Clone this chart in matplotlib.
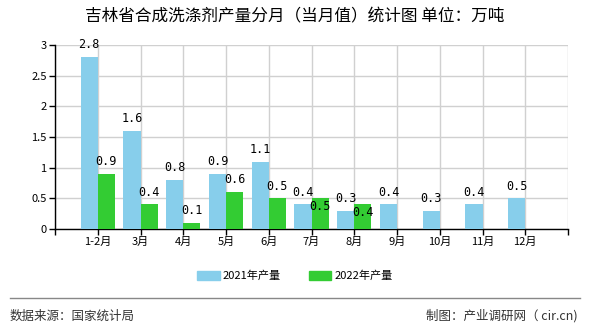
import matplotlib
matplotlib.use("Agg")
import matplotlib.pyplot as plt
from matplotlib.patches import Patch
from matplotlib.lines import Line2D

plt.rcParams['font.family'] = ['Noto Sans CJK SC', 'DejaVu Sans']

categories = ['1-2月', '3月', '4月', '5月', '6月', '7月', '8月', '9月', '10月', '11月', '12月']
values_2021 = [2.8, 1.6, 0.8, 0.9, 1.1, 0.4, 0.3, 0.4, 0.3, 0.4, 0.5]
values_2022 = [0.9, 0.4, 0.1, 0.6, 0.5, 0.5, 0.4]
series_names = ['2021年产量', '2022年产量']
yticks = [0, 0.5, 1, 1.5, 2, 2.5, 3]
ytick_labels = ['0', '0.5', '1', '1.5', '2', '2.5', '3']

c21 = '#87CEEB'
c22 = '#33CC33'

fig = plt.figure(figsize=(5.9, 3.3), dpi=100)
ax = fig.add_axes([55/590, 1-229/330, 513/590, 184/330])

w = 0.4
x21 = list(range(len(values_2021)))
x22 = list(range(len(values_2022)))
ax.bar([x - w/2 for x in x21], values_2021, width=w, color=c21, zorder=3)
ax.bar([x + w/2 for x in x22], values_2022, width=w, color=c22, zorder=3)

# label placement: above the bar, except where the reference pushed it down
lab_up = 0.2
for x, v in zip(x21, values_2021):
    ax.text(x - w/2, v + lab_up, f'{v:g}', ha='center', va='center', fontsize=8.5,
            family='DejaVu Sans Mono', zorder=4)
for i, (x, v) in enumerate(zip(x22, values_2022)):
    dy = lab_up if i < 5 else -0.13
    ax.text(x + w/2, v + dy, f'{v:g}', ha='center', va='center', fontsize=8.5,
            family='DejaVu Sans Mono', zorder=4)

ax.set_xlim(-1, len(categories))
ax.set_ylim(0, 3)
ax.set_yticks(yticks)
ax.set_yticklabels(ytick_labels, fontsize=8)
ax.set_xticks(range(-1, len(categories) + 1))
ax.set_xticklabels([''] + categories + [''], fontsize=8)
ax.grid(True, color='#d0d0d0', linewidth=1, zorder=0)
for s in ['top', 'right']:
    ax.spines[s].set_visible(False)
for s in ['left', 'bottom']:
    ax.spines[s].set_color('black')
    ax.spines[s].set_linewidth(1)
ax.tick_params(axis='both', length=4, width=1, color='black', pad=2)

fig.text(0.5, 1-17/330, '吉林省合成洗涤剂产量分月（当月值）统计图 单位：万吨',
         ha='center', va='center', fontsize=12)

handles = [Patch(color=c21), Patch(color=c22)]
fig.legend(handles, series_names, loc='center', bbox_to_anchor=(0.5, 1-276/330),
           ncol=2, frameon=False, fontsize=8, handlelength=2, handleheight=0.8,
           columnspacing=2.5, handletextpad=0.3)

fig.add_artist(Line2D([10/590, 580/590], [1-298/330, 1-298/330], color='#888888', linewidth=1))
fig.text(10/590, 1-316/330, '数据来源：国家统计局', ha='left', va='center', fontsize=9, color='#333333')
fig.text(578/590, 1-316/330, '制图：产业调研网（ cir.cn)', ha='right', va='center', fontsize=9, color='#333333')

fig.savefig('out.png', dpi=100)
